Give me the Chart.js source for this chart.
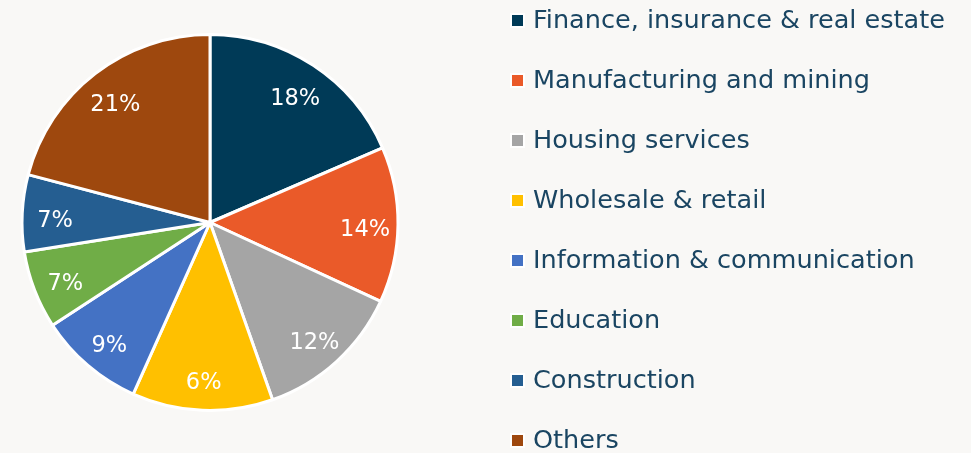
<!DOCTYPE html>
<html>
<head>
<meta charset="utf-8">
<script src="https://cdn.jsdelivr.net/npm/chart.js@4/dist/chart.umd.min.js"></script>
<style>
  html, body { margin: 0; padding: 0; background: #F9F8F6; overflow: hidden; }
  #wrap { width: 971px; height: 453px; position: relative; }
</style>
</head>
<body>
<div id="wrap"><canvas id="c" width="971" height="453"></canvas></div>
<script>
const categories = [
  'Finance, insurance & real estate',
  'Manufacturing and mining',
  'Housing services',
  'Wholesale & retail',
  'Information & communication',
  'Education',
  'Construction',
  'Others'
];
// slice sizes
const values = [18.5, 13.4, 12.7, 12.1, 9.1, 6.7, 6.6, 20.9];
// percentage texts printed on the slices
const valueLabels = ['18%', '14%', '12%', '6%', '9%', '7%', '7%', '21%'];
const colors = ['#003A57', '#EA5A29', '#A5A5A5', '#FFC000', '#4472C4', '#70AD47', '#255E91', '#9E480E'];

const FONT = '"DejaVu Sans", Lato, sans-serif';

const sliceLabels = {
  id: 'sliceLabels',
  afterDatasetsDraw(chart) {
    const ctx = chart.ctx;
    const meta = chart.getDatasetMeta(0);
    ctx.save();
    ctx.fillStyle = '#FFFFFF';
    ctx.font = '400 22.5px ' + FONT;
    ctx.textAlign = 'center';
    ctx.textBaseline = 'middle';
    meta.data.forEach((arc, i) => {
      const p = arc.getProps(['x', 'y', 'startAngle', 'endAngle', 'outerRadius'], true);
      const mid = (p.startAngle + p.endAngle) / 2;
      const r = p.outerRadius * 0.825;
      ctx.fillText(valueLabels[i], p.x + Math.cos(mid) * r, p.y + Math.sin(mid) * r + 6);
    });
    ctx.restore();
  }
};

const sideLegend = {
  id: 'sideLegend',
  afterDraw(chart) {
    const ctx = chart.ctx;
    const x0 = 512, y0 = 20.5, step = 60;
    ctx.save();
    let size = 23;
    ctx.font = '400 ' + size + 'px ' + FONT;
    const w = ctx.measureText(chart.data.labels[0]).width;
    size = Math.max(16, Math.min(30, size * 412 / w));
    ctx.font = '400 ' + size.toFixed(2) + 'px ' + FONT;
    ctx.textBaseline = 'middle';
    ctx.textAlign = 'left';
    chart.data.labels.forEach((lab, i) => {
      const y = y0 + i * step;
      ctx.fillStyle = '#FFFFFF';
      ctx.fillRect(x0 - 2, y - 7.5, 15, 15);
      ctx.fillStyle = colors[i];
      ctx.fillRect(x0, y - 5.5, 11, 11);
      ctx.fillStyle = '#1A4562';
      ctx.fillText(lab, 533, y + 1);
    });
    ctx.restore();
  }
};

new Chart(document.getElementById('c'), {
  type: 'pie',
  data: {
    labels: categories,
    datasets: [{
      data: values,
      backgroundColor: colors,
      borderColor: '#FFFFFF',
      borderWidth: 3
    }]
  },
  options: {
    responsive: false,
    animation: false,
    events: [],
    radius: 188,
    layout: { padding: { left: 20, right: 571, top: 34, bottom: 42 } },
    plugins: {
      legend: { display: false },
      tooltip: { enabled: false }
    }
  },
  plugins: [sliceLabels, sideLegend]
});
</script>
</body>
</html>
